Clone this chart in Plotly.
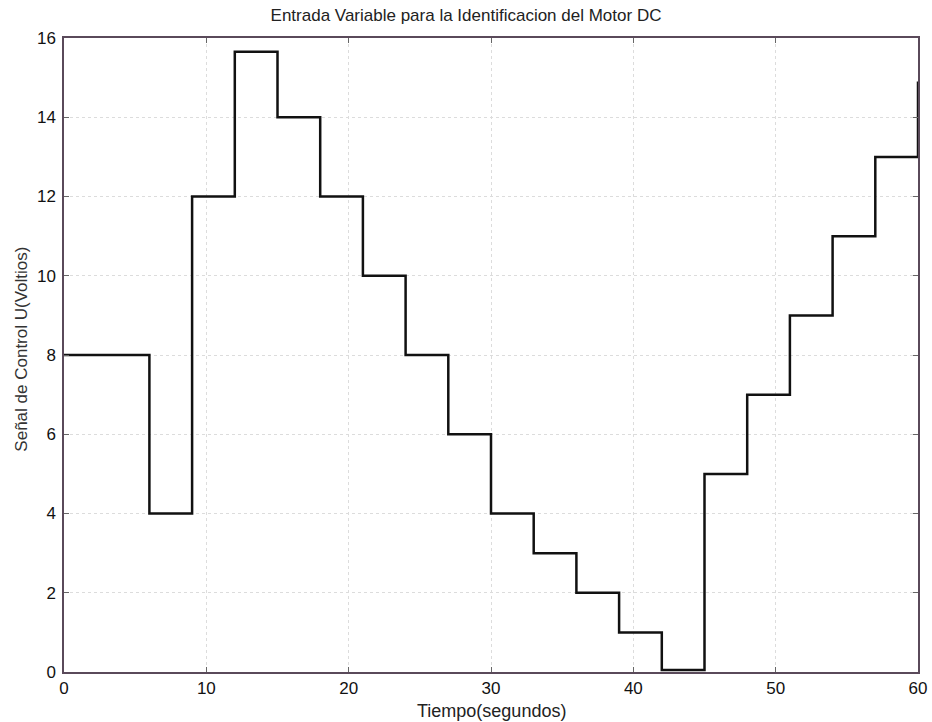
import plotly.graph_objects as go

tiempo = [0, 6, 9, 12, 15, 18, 21, 24, 27, 30, 33, 36, 39, 42, 45, 48, 51, 54, 57, 60, 60]
voltaje = [8, 4, 12, 15.65, 14, 12, 10, 8, 6, 4, 3, 2, 1, 0.05, 5, 7, 9, 11, 13, 13, 14.9]

x_ticks = [0, 10, 20, 30, 40, 50, 60]
y_ticks = [0, 2, 4, 6, 8, 10, 12, 14, 16]

fig = go.Figure()
fig.add_trace(go.Scatter(
    x=tiempo, y=voltaje, mode="lines", line_shape="hv",
    line=dict(color="#111111", width=2.5), showlegend=False,
))

FONT = "Liberation Sans, Arial, sans-serif"

axis_common = dict(
    showline=True, mirror="ticks", linecolor="#5a4a5a", linewidth=1.5,
    showgrid=True, gridcolor="#dcdcdc", griddash="dot", gridwidth=1,
    ticks="inside", ticklen=5, tickcolor="#666666",
    zeroline=False, automargin=False,
    tickfont=dict(size=17, color="#111111", family=FONT),
)

fig.update_layout(
    width=932, height=722,
    margin=dict(l=64, r=14, t=38, b=50),
    paper_bgcolor="white", plot_bgcolor="white",
    font=dict(family=FONT, color="#222222"),
    title=dict(text="Entrada Variable para la Identificacion del Motor DC",
               x=0.5, xanchor="center", y=0.988, yanchor="top",
               font=dict(size=17, color="#222222")),
    xaxis=dict(range=[0, 60], tickvals=x_ticks, ticklabelstandoff=0, **axis_common),
    yaxis=dict(range=[0, 16], tickvals=y_ticks, ticklabelstandoff=3, **axis_common),
    annotations=[
        dict(text="Tiempo(segundos)", xref="paper", yref="paper", x=0.5, y=-0.043,
             xanchor="center", yanchor="top", showarrow=False, font=dict(size=18, color="#222222")),
        dict(text="Señal de Control U(Voltios)", xref="paper", yref="paper", x=-0.0492, y=0.51,
             xanchor="center", yanchor="middle", textangle=-90, showarrow=False,
             font=dict(size=17, color="#333333")),
    ],
)

fig.write_html("out.html")
